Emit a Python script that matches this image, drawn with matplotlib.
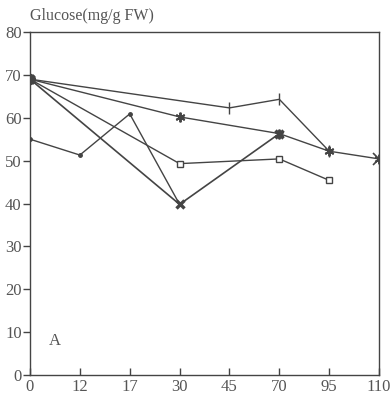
import matplotlib.pyplot as plt

days = ["0", "12", "17", "30", "45", "70", "95", "110"]

# each series: (day labels, glucose values, marker)
s_plus_x = ["0", "45", "70", "95"]
s_plus_y = [69, 62.3, 64.3, 52.2]
s_star_x = ["0", "30", "70", "95", "110"]
s_star_y = [69, 60.2, 56.3, 52.2, 50.4]
s_square_x = ["0", "30", "70", "95"]
s_square_y = [69, 49.3, 50.4, 45.4]
s_cross_x = ["0", "30", "70"]
s_cross_y = [69, 39.8, 56.3]
s_dot_x = ["0", "12", "17", "30"]
s_dot_y = [55, 51.3, 60.9, 39.8]

plt.rcParams['font.family'] = ['Liberation Serif', 'DejaVu Serif']
gray = '#444444'

fig = plt.figure(figsize=(3.92, 3.95), dpi=100)
ax = fig.add_axes([0.0765, 0.0506, 0.8905, 0.8684])

idx = {d: i for i, d in enumerate(days)}

def pos(xs):
    return [idx[x] for x in xs]

ax.plot(pos(s_plus_x), s_plus_y, color=gray, lw=1.0, marker='|', ms=9, mew=1.0)
ax.plot(pos(s_star_x), s_star_y, color=gray, lw=1.0, marker=(6, 2, 0), ms=7, mew=1.4)
ax.plot(pos(s_square_x), s_square_y, color=gray, lw=1.0, marker='s', ms=4,
        mfc='white', mew=1.0)
ax.plot(pos(s_cross_x), s_cross_y, color=gray, lw=1.2, marker='x', ms=6, mew=2.4)
ax.plot(pos(s_dot_x), s_dot_y, color=gray, lw=1.0, marker='o', ms=2.5)
ax.plot([0], [69], color=gray, marker='o', ms=7, ls='none')
ax.plot([7], [50.4], color=gray, marker='x', ms=9, mew=1.2, ls='none')

ax.set_xlim(0, 7)
ax.set_ylim(0, 80)
ax.set_xticks(range(len(days)))
ax.set_xticklabels(days)
ax.set_yticks(range(0, 81, 10))
ax.tick_params(axis='x', direction='in', length=5, width=1, colors=gray,
               labelcolor='#555555', labelsize=12, pad=3)
ax.tick_params(axis='y', direction='out', length=5, width=1, colors=gray,
               labelcolor='#555555', labelsize=12, pad=1)
for sp in ax.spines.values():
    sp.set_color(gray)
    sp.set_linewidth(1.0)

ax.text(0.5, 8, "A", fontsize=12, color='#555555', ha='center', va='center')
fig.text(0.077, 0.96, "Glucose(mg/g FW)", fontsize=11.5, color='#555555',
         ha='left', va='center')

fig.savefig("out.png", dpi=100)
